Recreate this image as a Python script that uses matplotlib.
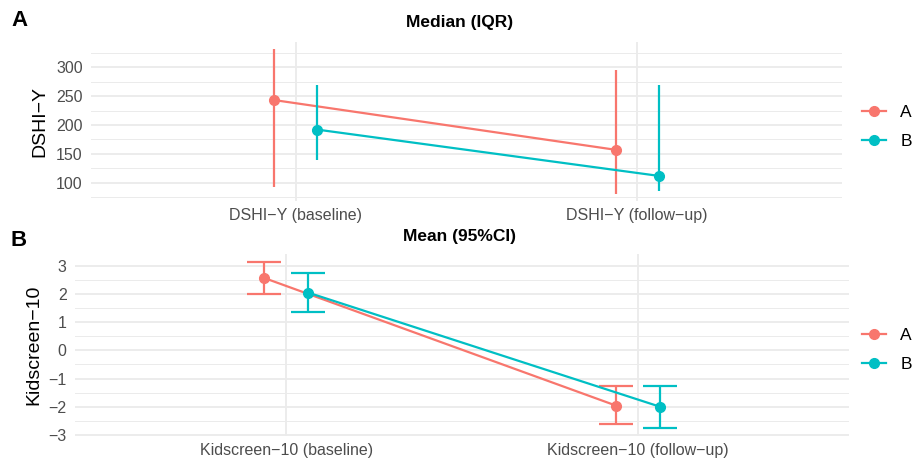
import numpy as np
import matplotlib
matplotlib.use("Agg")
import matplotlib.pyplot as plt
from matplotlib.lines import Line2D

plt.rcParams['font.family'] = ['Liberation Sans', 'DejaVu Sans']

groups = ["A", "B"]
colors = {"A": "#F8766D", "B": "#00BFC4"}

# panel A: median (IQR)
dshi_cats = ["DSHI\u2212Y (baseline)", "DSHI\u2212Y (follow\u2212up)"]
dshi_med = {"A": [243, 157], "B": [192, 112]}
dshi_lo = {"A": [93, 81], "B": [140, 85]}
dshi_hi = {"A": [331, 295], "B": [269, 269]}

# panel B: mean (95%CI)
kid_cats = ["Kidscreen\u221210 (baseline)", "Kidscreen\u221210 (follow\u2212up)"]
kid_mean = {"A": [2.57, -1.96], "B": [2.05, -2.0]}
kid_lo = {"A": [2.0, -2.6], "B": [1.35, -2.74]}
kid_hi = {"A": [3.13, -1.27], "B": [2.75, -1.27]}

W, H = 920, 463
fig = plt.figure(figsize=(W / 100, H / 100), dpi=100)


def px_axes(x0, y0, x1, y1):
    ax = fig.add_axes([x0 / W, 1 - y1 / H, (x1 - x0) / W, (y1 - y0) / H])
    ax.px_left, ax.px_width = x0, x1 - x0
    return ax


def style(ax, cats, yticks, yminor, ylab, ylab_x):
    ax.set_xlim(0.4, 2.6)
    ax.set_xticks([1, 2])
    ax.set_xticklabels(cats)
    ax.set_yticks(yticks)
    ax.set_yticks(yminor, minor=True)
    for s in ax.spines.values():
        s.set_visible(False)
    ax.tick_params(which="both", length=0)
    ax.tick_params(axis="x", labelsize=11.5, colors="#4D4D4D", pad=5)
    ax.tick_params(axis="y", labelsize=11.5, colors="#4D4D4D", pad=6)
    ax.grid(True, which="major", color="#EBEBEB", lw=1.3)
    ax.grid(True, which="minor", axis="y", color="#EBEBEB", lw=0.7)
    ax.set_axisbelow(True)
    ax.set_ylabel(ylab, fontsize=14, color="black")
    # ylab_x: right edge of the rotated label, in figure pixels
    ax.yaxis.set_label_coords((ylab_x - ax.px_left) / ax.px_width, 0.5)


offsets = {"A": -0.0625, "B": 0.0625}
xbase = np.array([1, 2])

# ---- Panel A
axA = px_axes(91, 42, 842, 201)
for g in groups:
    xs = xbase + offsets[g]
    axA.vlines(xs, dshi_lo[g], dshi_hi[g], color=colors[g], lw=1.6)
    axA.plot(xs, dshi_med[g], color=colors[g], lw=1.6, marker="o", ms=7)
axA.set_ylim(68.5, 343.5)
style(axA, dshi_cats, [100, 150, 200, 250, 300], [75, 125, 175, 225, 275, 325],
      "DSHI\u2212Y", 48)

# ---- Panel B
axB = px_axes(75, 254, 849, 436)
for g in groups:
    xs = xbase + offsets[g]
    axB.errorbar(xs, kid_mean[g],
                 yerr=[np.array(kid_mean[g]) - np.array(kid_lo[g]),
                       np.array(kid_hi[g]) - np.array(kid_mean[g])],
                 fmt="none", ecolor=colors[g], elinewidth=1.6, capsize=12.5,
                 capthick=1.6)
    axB.plot(xs, kid_mean[g], color=colors[g], lw=1.6, marker="o", ms=7)
axB.set_ylim(-3.04, 3.42)
style(axB, kid_cats, [-3, -2, -1, 0, 1, 2, 3], [-2.5, -1.5, -0.5, 0.5, 1.5, 2.5],
      "Kidscreen\u221210", 42)

# titles and panel letters
fig.text(460 / W, 1 - 22 / H, "Median (IQR)", ha="center", va="center",
         fontsize=12.5, fontweight="bold")
fig.text(460 / W, 1 - 237 / H, "Mean (95%CI)", ha="center", va="center",
         fontsize=12.5, fontweight="bold")
fig.text(11 / W, 1 - 20 / H, "A", ha="left", va="center", fontsize=16,
         fontweight="bold")
fig.text(11 / W, 1 - 240 / H, "B", ha="left", va="center", fontsize=16,
         fontweight="bold")

# legends
handles = [Line2D([], [], color=colors[g], lw=1.6, marker="o", ms=7)
           for g in groups]
for yc in (127, 350):
    fig.legend(handles, groups, loc="center left", bbox_to_anchor=(862 / W, 1 - yc / H),
               frameon=False, fontsize=12.5, handlelength=1.4, handletextpad=0.8,
               labelspacing=0.8, borderaxespad=0, borderpad=0)

fig.savefig("out.png", dpi=100)
